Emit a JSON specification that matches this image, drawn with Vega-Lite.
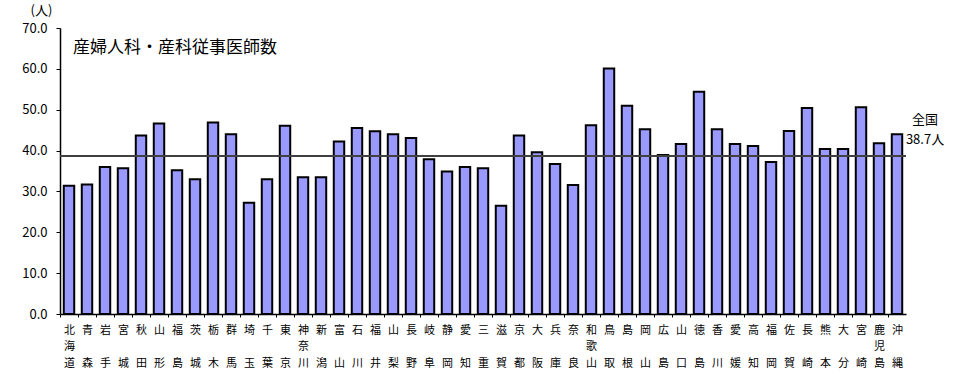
{
  "$schema": "https://vega.github.io/schema/vega-lite/v6.json",
  "width": 846,
  "height": 286,
  "autosize": "none",
  "padding": {"left": 60, "top": 28, "right": 50, "bottom": 66},
  "config": {"view": {"stroke": null}, "font": "Noto Sans CJK JP"},
  "data": {"values": [
    {"pref": "北海道", "value": 31.4},
    {"pref": "青森", "value": 31.7},
    {"pref": "岩手", "value": 36.0},
    {"pref": "宮城", "value": 35.7},
    {"pref": "秋田", "value": 43.7},
    {"pref": "山形", "value": 46.6},
    {"pref": "福島", "value": 35.2},
    {"pref": "茨城", "value": 33.0},
    {"pref": "栃木", "value": 46.9},
    {"pref": "群馬", "value": 44.0},
    {"pref": "埼玉", "value": 27.2},
    {"pref": "千葉", "value": 33.0},
    {"pref": "東京", "value": 46.1},
    {"pref": "神奈川", "value": 33.5},
    {"pref": "新潟", "value": 33.5},
    {"pref": "富山", "value": 42.2},
    {"pref": "石川", "value": 45.5},
    {"pref": "福井", "value": 44.7},
    {"pref": "山梨", "value": 44.0},
    {"pref": "長野", "value": 43.1},
    {"pref": "岐阜", "value": 37.9},
    {"pref": "静岡", "value": 34.9},
    {"pref": "愛知", "value": 36.0},
    {"pref": "三重", "value": 35.7},
    {"pref": "滋賀", "value": 26.5},
    {"pref": "京都", "value": 43.7},
    {"pref": "大阪", "value": 39.6},
    {"pref": "兵庫", "value": 36.7},
    {"pref": "奈良", "value": 31.6},
    {"pref": "和歌山", "value": 46.2},
    {"pref": "鳥取", "value": 60.1},
    {"pref": "島根", "value": 51.0},
    {"pref": "岡山", "value": 45.2},
    {"pref": "広島", "value": 38.9},
    {"pref": "山口", "value": 41.6},
    {"pref": "徳島", "value": 54.4},
    {"pref": "香川", "value": 45.2},
    {"pref": "愛媛", "value": 41.6},
    {"pref": "高知", "value": 41.1},
    {"pref": "福岡", "value": 37.2},
    {"pref": "佐賀", "value": 44.8},
    {"pref": "長崎", "value": 50.4},
    {"pref": "熊本", "value": 40.4},
    {"pref": "大分", "value": 40.4},
    {"pref": "宮崎", "value": 50.6},
    {"pref": "鹿児島", "value": 41.8},
    {"pref": "沖縄", "value": 44.0}
  ]},
  "layer": [
    {
      "mark": {"type": "bar", "fill": "#9999ff", "stroke": "#000000", "strokeWidth": 2},
      "encoding": {
        "x": {
          "field": "pref", "type": "nominal", "sort": null,
          "scale": {"paddingInner": 0.42, "paddingOuter": 0.21},
          "axis": {
            "title": null,
            "labelAngle": 0,
            "labelExpr": "length(datum.value) == 3 ? [substring(datum.value,0,1), substring(datum.value,1,2), substring(datum.value,2,3)] : [substring(datum.value,0,1), '\u200b', substring(datum.value,1,2)]",
            "labelFontSize": 11,
            "labelLineHeight": 16.5,
            "labelColor": "#000000",
            "labelPadding": 7,
            "labelBaseline": "top",
            "tickSize": 3,
            "tickColor": "#000000",
            "tickOffset": -9,
            "labelOffset": 9,
            "domainColor": "#000000",
            "domainWidth": 1.5
          }
        },
        "y": {
          "field": "value", "type": "quantitative",
          "scale": {"domain": [0, 70]},
          "axis": {
            "values": [0, 10, 20, 30, 40, 50, 60, 70],
            "format": ".1f",
            "grid": false,
            "tickSize": 4,
            "tickColor": "#000000",
            "domainColor": "#000000",
            "domainWidth": 1.5,
            "labelFontSize": 13,
            "labelColor": "#000000",
            "labelPadding": 9,
            "title": "(人)",
            "titleAngle": 0,
            "titleX": -19,
            "titleY": -18,
            "titleAlign": "center",
            "titleBaseline": "middle",
            "titleFontSize": 13,
            "titleFontWeight": "normal",
            "titleColor": "#000000"
          }
        }
      }
    },
    {
      "mark": {"type": "rule", "color": "#404040", "strokeWidth": 2},
      "encoding": {"y": {"datum": 38.7}}
    },
    {
      "transform": [{"filter": "datum.pref == '沖縄'"}],
      "mark": {"type": "text", "align": "center", "baseline": "bottom", "dx": 28, "dy": -28.5, "fontSize": 13, "lineHeight": 20, "color": "#000000"},
      "encoding": {
        "x": {"field": "pref", "type": "nominal", "sort": null},
        "y": {"datum": 38.7},
        "text": {"value": ["全国", "38.7人"]}
      }
    },
    {
      "transform": [{"filter": "datum.pref == '北海道'"}],
      "mark": {"type": "text", "align": "left", "baseline": "middle", "dx": 4, "fontSize": 17, "color": "#000000"},
      "encoding": {
        "x": {"field": "pref", "type": "nominal", "sort": null},
        "y": {"datum": 65.2},
        "text": {"value": "産婦人科・産科従事医師数"}
      }
    }
  ]
}
